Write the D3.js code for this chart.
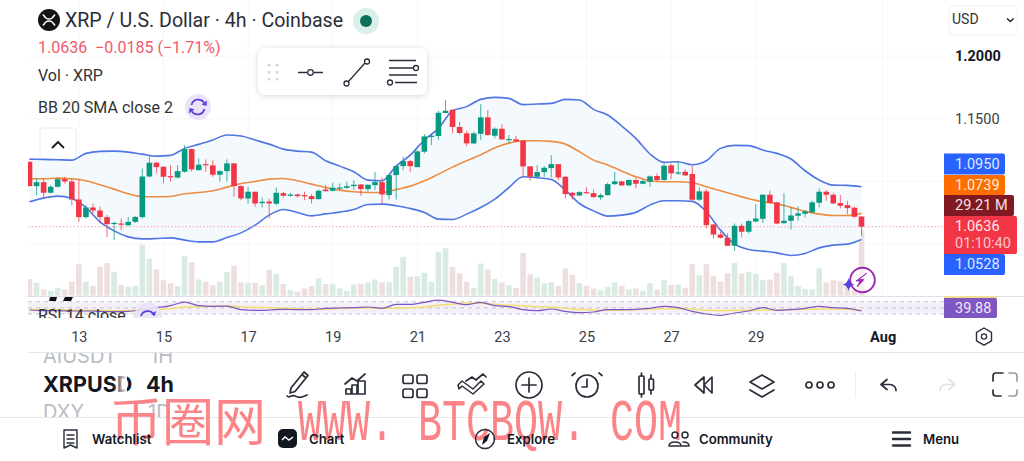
<!DOCTYPE html>
<html><head><meta charset="utf-8">
<script src="https://cdn.jsdelivr.net/npm/d3@7"></script>
<style>
html,body{margin:0;padding:0;background:#fff;overflow:hidden}
svg{display:block}
text{font-family:Roboto,"Noto Sans",sans-serif}
</style></head><body><svg id="c" width="1024" height="461"></svg>
<script>
const opens=[1.1156,1.0961,1.0993,1.0908,1.0956,1.1017,1.0998,1.0854,1.0713,1.0790,1.0766,1.0713,1.0662,1.0662,1.0649,1.0675,1.0713,1.1038,1.1148,1.1116,1.1041,1.1030,1.1076,1.1257,1.1089,1.1137,1.1127,1.1052,1.1081,1.1143,1.0961,1.0862,1.0916,1.0825,1.0838,1.0820,1.0905,1.0884,1.0894,1.0889,1.0881,1.0857,1.0934,1.0924,1.0942,1.0948,1.0961,1.0974,1.0937,1.0969,1.0993,1.0889,1.1049,1.1121,1.1161,1.1113,1.1236,1.1359,1.1362,1.1546,1.1572,1.1434,1.1383,1.1303,1.1380,1.1511,1.1364,1.1420,1.1332,1.1335,1.1324,1.1119,1.1036,1.1073,1.1105,1.1137,1.1036,1.0908,1.0886,1.0913,1.0905,1.0871,1.0889,1.0977,1.0999,1.0967,1.1010,1.0980,1.0996,1.1042,1.1010,1.1127,1.1066,1.1076,1.1058,1.0852,1.0919,1.0654,1.0574,1.0548,1.0484,1.0644,1.0596,1.0678,1.0700,1.0892,1.0831,1.0665,1.0684,1.0724,1.0740,1.0751,1.0828,1.0916,1.0892,1.0825,1.0809,1.0788,1.0718];
const highs=[1.1156,1.1022,1.1022,1.0969,1.1030,1.1036,1.1022,1.1014,1.0809,1.0822,1.0796,1.0729,1.0675,1.0702,1.0715,1.0721,1.1100,1.1201,1.1156,1.1121,1.1129,1.1129,1.1289,1.1263,1.1183,1.1175,1.1169,1.1089,1.1175,1.1143,1.0969,1.0956,1.0916,1.0870,1.0862,1.0950,1.0916,1.0908,1.0902,1.0916,1.0897,1.0934,1.0969,1.0988,1.0982,1.0996,1.1009,1.0974,1.0974,1.1076,1.1030,1.1054,1.1129,1.1196,1.1169,1.1249,1.1378,1.1383,1.1564,1.1650,1.1572,1.1476,1.1404,1.1396,1.1618,1.1570,1.1431,1.1455,1.1370,1.1364,1.1330,1.1121,1.1129,1.1121,1.1209,1.1137,1.1041,1.0913,1.0921,1.0951,1.0935,1.0903,1.0988,1.1076,1.1004,1.1015,1.1028,1.1015,1.1047,1.1063,1.1143,1.1143,1.1151,1.1095,1.1122,1.0951,1.0935,1.0657,1.0596,1.0582,1.0662,1.0662,1.0689,1.0817,1.0897,1.0924,1.0836,1.0903,1.0791,1.0801,1.0769,1.0844,1.0943,1.0929,1.0908,1.0889,1.0844,1.0796,1.0721];
const lows=[1.0961,1.0889,1.0862,1.0902,1.0950,1.0982,1.0809,1.0675,1.0702,1.0742,1.0662,1.0555,1.0529,1.0609,1.0641,1.0667,1.0702,1.1030,1.1063,1.0982,1.0996,1.1022,1.1068,1.1076,1.1084,1.1076,1.1036,1.0996,1.0996,1.0876,1.0849,1.0822,1.0796,1.0790,1.0702,1.0809,1.0870,1.0876,1.0870,1.0849,1.0822,1.0854,1.0916,1.0918,1.0929,1.0940,1.0929,1.0884,1.0916,1.0929,1.0822,1.0854,1.0854,1.1089,1.1076,1.1111,1.1223,1.1289,1.1330,1.1543,1.1383,1.1375,1.1281,1.1297,1.1330,1.1364,1.1343,1.1330,1.1303,1.1313,1.1036,1.1004,1.1028,1.1036,1.1030,1.1009,1.0862,1.0854,1.0881,1.0903,1.0868,1.0849,1.0884,1.0969,1.0961,1.0961,1.0943,1.0975,1.0956,1.0996,1.1004,1.1015,1.1050,1.1042,1.0844,1.0844,1.0622,1.0542,1.0542,1.0481,1.0443,1.0550,1.0582,1.0673,1.0668,1.0823,1.0657,1.0657,1.0614,1.0684,1.0710,1.0748,1.0791,1.0844,1.0817,1.0783,1.0737,1.0710,1.0561];
const closes=[1.0961,1.0993,1.0908,1.0956,1.1017,1.0998,1.0854,1.0713,1.0790,1.0766,1.0713,1.0657,1.0667,1.0654,1.0675,1.0715,1.1038,1.1148,1.1113,1.1036,1.1033,1.1081,1.1257,1.1095,1.1132,1.1129,1.1052,1.1081,1.1143,1.0961,1.0862,1.0916,1.0822,1.0836,1.0822,1.0908,1.0884,1.0894,1.0881,1.0886,1.0857,1.0924,1.0921,1.0948,1.0950,1.0961,1.0972,1.0937,1.0972,1.0993,1.0894,1.1049,1.1121,1.1161,1.1121,1.1239,1.1359,1.1364,1.1548,1.1564,1.1434,1.1386,1.1303,1.1383,1.1511,1.1370,1.1420,1.1335,1.1338,1.1319,1.1119,1.1036,1.1073,1.1108,1.1137,1.1030,1.0897,1.0886,1.0913,1.0911,1.0873,1.0889,1.0977,1.0999,1.0967,1.1010,1.0980,1.1001,1.1039,1.1010,1.1124,1.1063,1.1071,1.1047,1.0852,1.0919,1.0649,1.0574,1.0548,1.0484,1.0644,1.0596,1.0681,1.0702,1.0892,1.0828,1.0662,1.0684,1.0726,1.0743,1.0759,1.0831,1.0916,1.0892,1.0823,1.0804,1.0785,1.0716,1.0636];
const volumes=[7.4,5.8,2.8,2.1,3.5,2.8,6.3,14.0,6.2,4.4,12.8,14.5,10.6,4.7,4.0,4.3,22.7,16.4,11.7,6.9,5.5,4.3,17.6,14.9,7.2,6.3,4.7,6.3,10.5,13.4,6.0,5.8,5.8,4.7,11.4,9.6,5.2,2.5,1.8,3.2,4.3,7.7,5.2,5.3,3.2,2.1,5.0,5.3,5.9,7.2,6.0,6.0,12.8,17.3,8.4,8.7,10.2,6.2,19.5,21.1,12.8,9.9,6.3,3.5,14.3,11.7,7.5,5.9,4.7,3.5,19.0,9.6,8.1,5.5,5.9,4.4,12.1,9.3,5.6,4.4,3.2,2.4,4.0,5.9,4.4,2.7,3.2,2.2,5.5,2.7,6.9,4.7,5.0,3.5,14.0,9.1,14.0,8.7,6.3,9.9,14.6,9.9,10.6,9.6,6.9,7.2,10.2,14.6,8.7,4.4,3.0,2.7,12.2,5.9,6.9,6.5,4.0,2.5,29.21];
const bbUpper=[1.1177,1.1175,1.1172,1.1169,1.1223,1.1239,1.1241,1.1233,1.1217,1.1201,1.1207,1.1263,1.1295,1.1330,1.1370,1.1362,1.1330,1.1297,1.1257,1.1241,1.1233,1.1164,1.1121,1.1076,1.1009,1.1004,1.1121,1.1209,1.1330,1.1423,1.1564,1.1597,1.1655,1.1671,1.1663,1.1613,1.1618,1.1623,1.1655,1.1650,1.1575,1.1530,1.1442,1.1343,1.1218,1.1151,1.1156,1.1132,1.1164,1.1263,1.1287,1.1285,1.1250,1.1223,1.1178,1.1084,1.1010,1.0969,1.0967,1.0956];
const bbBasis=[1.1020,1.1020,1.1025,1.1020,1.1004,1.0972,1.0937,1.0900,1.0876,1.0876,1.0878,1.0900,1.0910,1.0924,1.0953,1.0982,1.0998,1.1017,1.1022,1.1004,1.0977,1.0950,1.0929,1.0916,1.0910,1.0910,1.0934,1.0961,1.1004,1.1057,1.1113,1.1164,1.1212,1.1268,1.1305,1.1324,1.1324,1.1319,1.1297,1.1236,1.1169,1.1130,1.1082,1.1036,1.1004,1.0996,1.0996,1.0988,1.0956,1.0924,1.0892,1.0860,1.0836,1.0820,1.0791,1.0759,1.0737,1.0726,1.0726,1.0743];
const bbLower=[1.0836,1.0865,1.0881,1.0862,1.0790,1.0675,1.0603,1.0555,1.0539,1.0542,1.0547,1.0529,1.0515,1.0515,1.0550,1.0587,1.0649,1.0729,1.0774,1.0750,1.0723,1.0739,1.0753,1.0774,1.0814,1.0817,1.0804,1.0782,1.0750,1.0697,1.0694,1.0737,1.0790,1.0857,1.0950,1.1036,1.1028,1.1014,1.0929,1.0822,1.0763,1.0721,1.0729,1.0751,1.0809,1.0844,1.0844,1.0839,1.0756,1.0609,1.0497,1.0454,1.0441,1.0427,1.0406,1.0422,1.0467,1.0489,1.0497,1.0534];
const rsiValues=[43.0,40.8,40.8,39.7,39.7,38.6,37.6,38.6,44.1,50.5,57.0,68.9,57.0,54.9,55.9,44.1,41.9,43.0,45.1,44.1,44.1,48.4,49.5,50.5,52.7,48.4,61.4,61.4,67.8,75.4,67.8,60.3,67.8,57.0,53.8,44.1,40.8,46.2,38.6,34.3,36.5,44.1,44.1,45.1,48.4,54.9,50.5,38.6,30.0,25.7,33.2,39.7,50.5,41.9,44.1,48.4,54.9,50.5,48.4,39.88];
const rsiAverage=[45.1,44.1,44.1,43,41.9,41.9,40.8,40.8,43,45.1,47.3,52.7,53.8,54.9,55.9,53.8,51.6,50.5,48.4,47.3,45.1,46.2,48.4,49.5,50.5,48.4,48.4,50.5,52.7,58.1,62.4,65.7,64.6,61.4,58.1,57,53.8,51.6,48.4,45.1,43,41.9,43,44.1,46.2,47.3,47.3,46.2,41.9,40.8,41.9,41.9,43,43,44.1,45.1,46.2,46.2,45.1,43];
const dateLabels=["13","15","17","19","21","23","25","27","29","Aug"];
const dateIndex=[7,19,31,43,55,67,79,91,103,121];
const priceTicks=[1.2,1.15];
const priceGrid=[1.2,1.15,1.1,1.05];
const lastPrice=1.0636;
const badgeTexts={upper:"1.0950",basis:"1.0739",vol:"29.21 M",last:"1.0636",timer:"01:10:40",lower:"1.0528",rsi:"39.88"};

const C={up:"#089981",down:"#f23645",volUp:"#d9ebe2",volDown:"#eedfdf",blue:"#4f76e3",orange:"#ee8c42",fill:"#f4f9fe",grid:"#f6f7f9",sep:"#e4e6ec",ink:"#131722",purple:"#7e57c2"};
const svg=d3.select("#c");
const L=28,R=944,PB=296.5;
const n=closes.length, idx=d3.range(n), bbIdx=d3.range(0,n,2);
const x=d3.scaleLinear().domain([0,n-1]).range([29.5,861.5]);
const y=d3.scaleLinear().domain([1.245,1.0]).range([0,306.25]);
const yV=d3.scaleLinear().domain([0,29.21]).range([295.7,230]);
const yR=d3.scaleLinear().domain([30,70]).range([314,301.7]);
const fmt=d3.format(".4f");
const defs=svg.append("defs");
defs.append("clipPath").attr("id","main").append("rect").attr("x",L).attr("y",0).attr("width",R-L).attr("height",PB);
defs.append("clipPath").attr("id","rsi").append("rect").attr("x",L-2).attr("y",297).attr("width",1000).attr("height",21);
const f=defs.append("filter").attr("id","sh").attr("x","-10%").attr("y","-20%").attr("width","120%").attr("height","150%");
f.append("feDropShadow").attr("dx",0).attr("dy",1).attr("stdDeviation",3).attr("flood-color","#000").attr("flood-opacity",0.16);
const g1=defs.append("linearGradient").attr("id","fade").attr("x1",0).attr("x2",1).attr("y1",0).attr("y2",0);
g1.append("stop").attr("offset","0").attr("stop-color","#fff").attr("stop-opacity",0);
g1.append("stop").attr("offset","1").attr("stop-color","#fff").attr("stop-opacity",1);

// grid
const grid=svg.append("g");
grid.selectAll("line.h").data(priceGrid).join("line").attr("x1",L).attr("x2",R).attr("y1",d=>y(d)).attr("y2",d=>y(d)).attr("stroke",C.grid);
grid.selectAll("line.v").data(dateIndex).join("line").attr("x1",d=>x(d)).attr("x2",d=>x(d)).attr("y1",0).attr("y2",PB).attr("stroke",C.grid);

const main=svg.append("g").attr("clip-path","url(#main)");
// volume
main.selectAll("rect.v").data(idx).join("rect").attr("x",i=>x(i)-2.8).attr("width",5.6)
 .attr("y",i=>yV(volumes[i])).attr("height",i=>yV(0)-yV(volumes[i]))
 .attr("fill",i=>closes[i]>=opens[i]?C.volUp:C.volDown);
// BB
main.append("path").datum(bbIdx.map((d,k)=>k)).attr("fill",C.fill)
 .attr("d",d3.area().x(k=>x(bbIdx[k])).y0(k=>y(bbLower[k])).y1(k=>y(bbUpper[k])).curve(d3.curveMonotoneX));
const bbLine=a=>d3.line().x(k=>x(bbIdx[k])).y(k=>y(a[k])).curve(d3.curveMonotoneX)(bbIdx.map((d,k)=>k));
main.append("path").attr("d",bbLine(bbUpper)).attr("fill","none").attr("stroke",C.blue).attr("stroke-width",1.6);
main.append("path").attr("d",bbLine(bbLower)).attr("fill","none").attr("stroke",C.blue).attr("stroke-width",1.6);
main.append("path").attr("d",bbLine(bbBasis)).attr("fill","none").attr("stroke",C.orange).attr("stroke-width",1.6);
// price line
main.append("line").attr("x1",L).attr("x2",R).attr("y1",y(lastPrice)).attr("y2",y(lastPrice)).attr("stroke","#f4a0a8").attr("stroke-width",1).attr("stroke-dasharray","1.5 2");
// candles
const col=i=>closes[i]>=opens[i]?C.up:C.down;
main.selectAll("line.w").data(idx).join("line").attr("x1",x).attr("x2",x).attr("y1",i=>y(highs[i])).attr("y2",i=>y(lows[i])).attr("stroke",col).attr("stroke-width",1).attr("stroke-opacity",.75);
main.selectAll("rect.b").data(idx).join("rect").attr("x",i=>x(i)-2.8).attr("width",5.6)
 .attr("y",i=>Math.min(y(opens[i]),y(closes[i])))
 .attr("height",i=>Math.max(1.2,Math.abs(y(opens[i])-y(closes[i])))).attr("fill",col);

// price axis
const ax=svg.append("g").attr("transform","translate(946,0)").call(d3.axisRight(y).tickValues(priceTicks).tickFormat(fmt).tickSize(0).tickPadding(9));
ax.select(".domain").remove();
ax.selectAll("text").attr("font-size",14.5).style("font-family","Roboto").attr("font-weight",(d,i)=>i==0?700:400).attr("fill",(d,i)=>i==0?"#131722":"#3a3d46");

// separators
svg.append("line").attr("x1",L-1).attr("x2",1024).attr("y1",296.5).attr("y2",296.5).attr("stroke","#dcdfe8");
svg.append("line").attr("x1",L).attr("x2",1024).attr("y1",352.5).attr("y2",352.5).attr("stroke",C.sep);
svg.append("line").attr("x1",0).attr("x2",1024).attr("y1",417.5).attr("y2",417.5).attr("stroke",C.sep);

// RSI pane
const rp=svg.append("g").attr("clip-path","url(#rsi)");
rp.append("rect").attr("x",L).attr("width",R-L).attr("y",yR(70)).attr("height",yR(30)-yR(70)).attr("fill","#f4f0fa");
[70,50,30].forEach(v=>rp.append("line").attr("x1",L).attr("x2",R).attr("y1",yR(v)).attr("y2",yR(v)).attr("stroke","#b9b5c6").attr("stroke-width",.8).attr("stroke-dasharray","4 4"));
const rLine=a=>d3.line().x(k=>x(bbIdx[k])).y(k=>yR(a[k])).curve(d3.curveMonotoneX)(bbIdx.map((d,k)=>k));
rp.append("path").attr("d",rLine(rsiAverage)).attr("fill","none").attr("stroke","#f3df6f").attr("stroke-width",1.5);
rp.append("path").attr("d",rLine(rsiValues)).attr("fill","none").attr("stroke",C.purple).attr("stroke-width",1.2);
rp.append("path").attr("d","M50 297h7l-1 4h-7zM65 297h8l-2 4h-8z").attr("fill","#111");
rp.append("circle").attr("cx",148).attr("cy",317).attr("r",14).attr("fill","#e9e2f7").attr("opacity",.9);
rp.append("text").attr("x",38).attr("y",321).attr("font-size",16).attr("fill","#333").text("RSI 14 close");
rp.append("path").attr("d","M141 316a7 7 0 0 1 13-1").attr("fill","none").attr("stroke","#5a3fe0").attr("stroke-width",1.8);
rp.append("path").attr("d","M156 311l-1 5-4-2z").attr("fill","#5a3fe0");

// date axis
const dAx=svg.append("g").attr("transform","translate(0,336)").call(d3.axisBottom(x).tickValues(dateIndex).tickFormat((d,i)=>dateLabels[i]).tickSize(0).tickPadding(0));
dAx.select(".domain").remove();
dAx.selectAll("text").attr("dy",0).attr("y",5.5).attr("font-size",14.5).style("font-family","Roboto").attr("fill",(d,i)=>i==9?"#131722":"#3a3d46").attr("font-weight",(d,i)=>i==9?700:400);

// badges
function badge(x0,y0,w,h,fill,lines){
  svg.append("path").attr("d",`M${x0} ${y0}H${x0+w-2}Q${x0+w} ${y0} ${x0+w} ${y0+2}V${y0+h-2}Q${x0+w} ${y0+h} ${x0+w-2} ${y0+h}H${x0}Z`).attr("fill",fill);
  lines.forEach(l=>svg.append("text").attr("x",x0+11).attr("y",l[0]).attr("font-size",14.5).attr("fill",l[2]||"#fff").attr("dominant-baseline","middle").text(l[1]));
}
badge(944,153.5,61,21,"#2962ff",[[165,badgeTexts.upper,"#dfe7ff"]]);
badge(944,175,61,20,"#ff6d00",[[186,badgeTexts.basis,"#ffeedd"]]);
badge(944,195,70,21,"#801922",[[206,badgeTexts.vol,"#f5e3e3"]]);
badge(944,216,73,38,"#f23645",[[227.5,badgeTexts.last,"#ffe9ea"],[244.5,badgeTexts.timer,"#fcc6cb"]]);
badge(944,254,61,21,"#2962ff",[[265.5,badgeTexts.lower,"#dfe7ff"]]);
svg.append("rect").attr("x",944).attr("y",296).attr("width",53).attr("height",2).attr("fill","#f3df8f");
badge(944,298,53,20,"#7e57c2",[[309.5,badgeTexts.rsi,"#efe9fa"]]);

// USD box
svg.append("rect").attr("x",949.5).attr("y",6).attr("width",68).attr("height",29).attr("rx",4).attr("fill","#fff").attr("stroke","#f0f2f6");
svg.append("text").attr("x",952).attr("y",24).attr("font-size",14).attr("fill","#333").text("USD");
svg.append("path").attr("d","M1007 18.5l3.3 3 3.3-3").attr("fill","none").attr("stroke","#222").attr("stroke-width",1.5);

// header
svg.append("circle").attr("cx",49).attr("cy",20).attr("r",11).attr("fill","#131313");
svg.append("path").attr("d","M43 14.5c3 4 3.5 4.5 6 4.5s3-.5 6-4.5M43 25.5c3-4 3.5-4.5 6-4.5s3 .5 6 4.5").attr("fill","none").attr("stroke","#fff").attr("stroke-width",1.5);
svg.append("text").attr("x",65).attr("y",27).attr("font-size",19.6).attr("fill","#2a2e39").text("XRP / U.S. Dollar · 4h · Coinbase");
svg.append("circle").attr("cx",366).attr("cy",21).attr("r",13).attr("fill","#d9efe9");
svg.append("circle").attr("cx",366).attr("cy",21).attr("r",6).attr("fill","#0b6e5a");
svg.append("text").attr("x",38).attr("y",53).attr("font-size",16).attr("fill","#ee5a6a").attr("xml:space","preserve").text("1.0636  −0.0185 (−1.71%)");
svg.append("text").attr("x",38).attr("y",81).attr("font-size",16).attr("fill","#333").text("Vol · XRP");
svg.append("text").attr("x",38).attr("y",113).attr("font-size",16).attr("fill","#333").text("BB 20 SMA close 2");
// sync icon
svg.append("circle").attr("cx",198).attr("cy",107).attr("r",13).attr("fill","#ebe4f8");
svg.append("path").attr("d","M191.5 105a7 7 0 0 1 12.5-2.5M204.500 109a7 7 0 0 1-12.5 2.500").attr("fill","none").attr("stroke","#5a3fe0").attr("stroke-width",1.8);
svg.append("path").attr("d","M207 100.500l-.5 5.500-5-1.500zM189 113.500l.5-5.500 5 1.500z").attr("fill","#5a3fe0");
// collapse button
svg.append("path").attr("d","M40 157V130q0-2 2-2H74q2 0 2 2V157").attr("fill","#fff").attr("stroke","#e9ebf0");
svg.append("path").attr("d","M52 148l6-6 6 6").attr("fill","none").attr("stroke","#131722").attr("stroke-width",1.8);

// floating toolbar
svg.append("rect").attr("x",258).attr("y",48).attr("width",169).attr("height",47).attr("rx",8).attr("fill","#fff").attr("filter","url(#sh)");
[65,72,79].forEach(yy=>[268,276].forEach(xx=>svg.append("rect").attr("x",xx).attr("y",yy-1).attr("width",2.4).attr("height",2.4).attr("fill","#cfd1d6")));
const tb=svg.append("g").attr("fill","none").attr("stroke","#2a2e39").attr("stroke-width",1.3);
tb.append("path").attr("d","M298 72.500h9M314 72.500h9");
tb.append("circle").attr("cx",310.5).attr("cy",72.500).attr("r",2.8);
tb.append("path").attr("d","M348 82l17-19");
tb.append("circle").attr("cx",346.500).attr("cy",83.500).attr("r",2.5);
tb.append("circle").attr("cx",367).attr("cy",61.500).attr("r",2.5);
tb.append("path").attr("d","M389 60.500h27M389 68h24M389 75h28M395 82.500h22");
tb.append("circle").attr("cx",416).attr("cy",68).attr("r",2.5);
tb.append("circle").attr("cx",390).attr("cy",82.500).attr("r",2.5);

// bolt badge
svg.append("circle").attr("cx",862.5).attr("cy",280).attr("r",12.3).attr("fill","#fff").attr("fill-opacity",.55).attr("stroke","#9c27b0").attr("stroke-width",1.9);
svg.append("path").attr("d","M867 273l-8 6.500h5l-7 7.500 3-6h-4z").attr("fill","#9c27b0").attr("stroke","#9c27b0").attr("stroke-width",.8);
svg.append("path").attr("d","M848.500 278q1 5.500 6 6.500q-5 1-6 6.500q-1-5.500-6-6.500q5-1 6-6.500z").attr("fill","#5a3fe0");
// settings hexagon
svg.append("path").attr("d","M984 328l7.500 4.300v8.600l-7.500 4.300-7.500-4.300v-8.600z").attr("fill","none").attr("stroke","#2a2e39").attr("stroke-width",1.4);
svg.append("circle").attr("cx",984).attr("cy",336.500).attr("r",2.6).attr("fill","none").attr("stroke","#2a2e39").attr("stroke-width",1.3);

// symbols
const sym=svg.append("g");
sym.append("text").attr("x",43).attr("y",392).attr("font-size",21.5).attr("font-weight",700).attr("fill","#131722").style("font-family","Inter").text("XRPUSD");
sym.append("text").attr("x",146).attr("y",392).attr("font-size",21.5).attr("font-weight",700).attr("fill","#131722").style("font-family","Inter").text("4h");
defs.append("clipPath").attr("id","ai").append("rect").attr("x",0).attr("y",353).attr("width",280).attr("height",12);
defs.append("clipPath").attr("id","dx").append("rect").attr("x",0).attr("y",402).attr("width",280).attr("height",15);
sym.append("g").attr("clip-path","url(#ai)").call(g=>{
  g.append("text").attr("x",43).attr("y",362.5).attr("font-size",20).attr("fill","#b9bcc2").style("font-family","Inter").text("AIUSDT");
  g.append("text").attr("x",150).attr("y",362.5).attr("font-size",20).attr("fill","#b9bcc2").style("font-family","Inter").text("1H");
});
sym.append("g").attr("clip-path","url(#dx)").call(g=>{
  g.append("text").attr("x",43).attr("y",419).attr("font-size",20).attr("fill","#b9bcc2").style("font-family","Inter").text("DXY");
  g.append("text").attr("x",148).attr("y",419).attr("font-size",20).attr("fill","#b9bcc2").style("font-family","Inter").text("1D");
});
sym.append("rect").attr("x",113).attr("y",375).attr("width",14).attr("height",22).attr("fill","url(#fade)");

// watermark (beneath the bottom navigation)
const wm=svg.append("g").attr("fill","#fb7d82").attr("fill-opacity",.95);
wm.append("text").attr("x",110).attr("y",441).attr("font-size",52).attr("textLength",156).attr("lengthAdjust","spacing").style("font-family","'Noto Sans CJK SC'").text("币圈网");
wm.append("text").attr("x",298).attr("y",440).attr("font-size",60).attr("textLength",384).attr("lengthAdjust","spacingAndGlyphs").style("font-family","'Liberation Mono'").text("WWW. BTCBQW. COM");

// bottom toolbar icons
const ic=svg.append("g").attr("fill","none").attr("stroke","#2a2e39").attr("stroke-width",1.7).attr("stroke-linejoin","round").attr("stroke-linecap","round");
ic.append("path").attr("d","M291 388l13-16 4 3.500-13 16-5 1.500zM302 374.500l4 3.500M287 396c3 3 4-2 8 0s5 2 12-1");
ic.append("path").attr("d","M346 394v-5h5v5zM352 394v-9h5v9zM358 394v-13h7v13zM345 384l7-6 5 3 8-7");
[[403,375],[417,375],[403,389],[417,389]].forEach(p=>ic.append("rect").attr("x",p[0]).attr("y",p[1]).attr("width",10).attr("height",8.500).attr("rx",2));
ic.append("path").attr("d","M458 385l4-4 11 8 8-8 3 3 -11 10-11-8-3 3z").attr("stroke-width",1.5);
ic.append("path").attr("d","M466 381l6-4 4 3 7-6 3 3");
ic.append("circle").attr("cx",529).attr("cy",385).attr("r",13);
ic.append("path").attr("d","M529 378v14M522 385h14");
ic.append("circle").attr("cx",587).attr("cy",386).attr("r",11);
ic.append("path").attr("d","M587 379v8h-5M575 373l-3 2.500M599 373l3 2.500");
ic.append("rect").attr("x",639).attr("y",376).attr("width",5).attr("height",18).attr("rx",1);
ic.append("rect").attr("x",649).attr("y",379).attr("width",4.500).attr("height",11).attr("rx",1);
ic.append("path").attr("d","M641.500 373v3M641.500 394v3M651 375v4M651 390v4");
ic.append("path").attr("d","M704 377l-9 8 9 8zM712 377l-8 8 8 8z");
ic.append("path").attr("d","M762 375l12 7-12 7-12-7zM750 390l12 7 12-7");
[809,820,831].forEach(c=>ic.append("circle").attr("cx",c).attr("cy",385).attr("r",3));
svg.append("line").attr("x1",855.500).attr("x2",855.500).attr("y1",372).attr("y2",398).attr("stroke","#eceef2");
ic.append("path").attr("d","M881 384.500h9a6 6 0 0 1 6 6M881 384.500l6-5M881 384.500l6 5");
ic.append("path").attr("d","M955 384.500h-9a6 6 0 0 0-6 6M955 384.500l-6-5M955 384.500l-6 5").attr("stroke","#dfe1e6");
ic.append("path").attr("d","M1003 373h-7a3 3 0 0 0-3 3v5M993 390v3a3 3 0 0 0 3 3h5");
ic.append("path").attr("d","M1009 373h5a3 3 0 0 1 3 3v5M1017 390v3a3 3 0 0 1-3 3h-5").attr("stroke","#9a9da6");

// bottom nav
const navLabels=[["Watchlist",92],["Chart",309],["Explore",507],["Community",699],["Menu",923]];
svg.selectAll("text.nav").data(navLabels).join("text").attr("x",d=>d[1]).attr("y",444).attr("font-size",13.2).attr("font-weight",600).attr("fill","#131722").style("font-family","Inter").text(d=>d[0]);
const nv=svg.append("g").attr("fill","none").attr("stroke","#2a2e39").attr("stroke-width",1.5).attr("stroke-linejoin","round").attr("stroke-linecap","round");
nv.append("path").attr("d","M64 430h13v18l-6.500-3-6.500 3zM67 435h7M67 439h7M67 443h7").attr("stroke-width",1.4);
svg.append("rect").attr("x",278).attr("y",429).attr("width",19).attr("height",19).attr("rx",5).attr("fill","#131722");
svg.append("path").attr("d","M282 440l3-3 4 3 4-3").attr("fill","none").attr("stroke","#fff").attr("stroke-width",1.5);
nv.append("circle").attr("cx",485).attr("cy",439).attr("r",9.500);
svg.append("path").attr("d","M490 433l-3 8-5 4 2-8z").attr("fill","#131722");
nv.append("path").attr("d","M669 446q0-4 6-4t6 4zM682 446h7q0-4-6-4M672 435a3 3 0 1 0 6 0a3 3 0 1 0-6 0M682 435a3 3 0 1 0 6 0a3 3 0 1 0-6 0");
nv.append("path").attr("d","M893 432.500h17M893 439h17M893 445.500h17").attr("stroke-width",2.4);
</script></body></html>
